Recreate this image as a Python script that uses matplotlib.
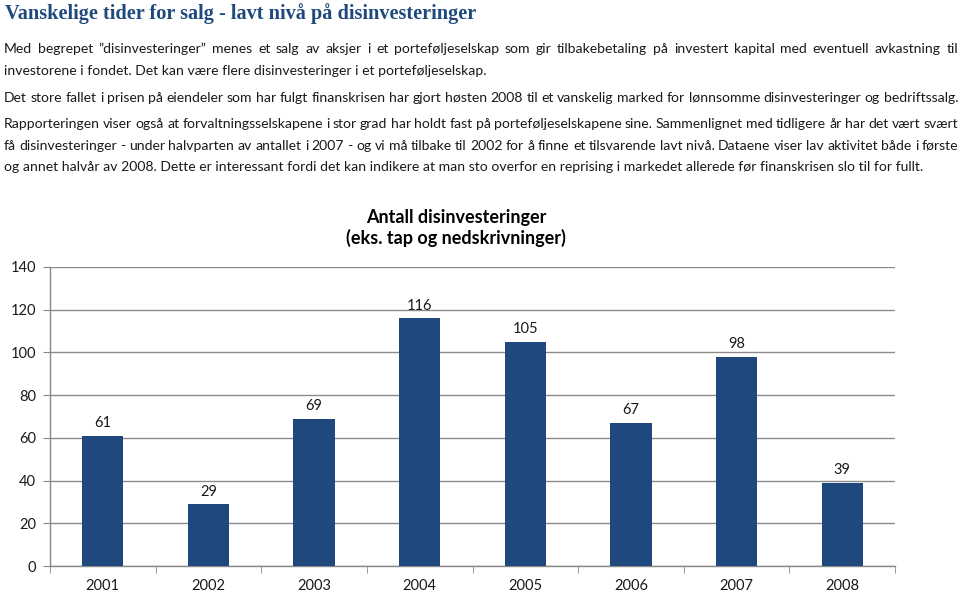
import matplotlib
matplotlib.use("Agg")
import matplotlib.pyplot as plt
import numpy as np

years = ["2001", "2002", "2003", "2004", "2005", "2006", "2007", "2008"]
counts = [61, 29, 69, 116, 105, 67, 98, 39]
yticks = [0, 20, 40, 60, 80, 100, 120, 140]

title = "Vanskelige tider for salg - lavt nivå på disinvesteringer"
chart_title = "Antall disinvesteringer\n(eks. tap og nedskrivninger)"
# (text, y-pixel-center, justified)
body_lines = [
    ("Med begrepet \u201ddisinvesteringer\u201d menes et salg av aksjer i et porteføljeselskap som gir tilbakebetaling på investert kapital med eventuell avkastning til", 49, True),
    ("investorene i fondet. Det kan være flere disinvesteringer i et porteføljeselskap.", 71, False),
    ("Det store fallet i prisen på eiendeler som har fulgt finanskrisen har gjort høsten 2008 til et vanskelig marked for lønnsomme disinvesteringer og bedriftssalg.", 98, True),
    ("Rapporteringen viser også at forvaltningsselskapene i stor grad har holdt fast på porteføljeselskapene sine. Sammenlignet med tidligere år har det vært svært", 124, True),
    ("få disinvesteringer - under halvparten av antallet i 2007 - og vi må tilbake til 2002 for å finne et tilsvarende lavt nivå. Dataene viser lav aktivitet både i første", 146, True),
    ("og annet halvår av 2008. Dette er interessant fordi det kan indikere at man sto overfor en reprising i markedet allerede før finanskrisen slo til for fullt.", 167, False),
]

W, H = 960, 593
fig = plt.figure(figsize=(W / 100, H / 100), dpi=100)
renderer = fig.canvas.get_renderer()

BODY_FONT = "Lato"
TEXT_COLOR = "#1a1a1a"
BLUE = "#1F497D"
TITLE_FONT = "Liberation Serif"

# fit body font size so that the full line spans 4..958 px
probe = fig.text(0, 0, body_lines[2][0], fontsize=10, family=BODY_FONT)
pw = probe.get_window_extent(renderer).width
probe.remove()
body_size = 10 * (955 / pw)

# title: fit width 5..478
probe = fig.text(0, 0, title, fontsize=10, family=TITLE_FONT, fontweight="bold")
tw = probe.get_window_extent(renderer).width
probe.remove()
title_size = 10 * (473 / tw)
fig.text(5 / W, 1 - 14 / H, title, fontsize=title_size, family=TITLE_FONT,
         fontweight="bold", color=BLUE, va="center", ha="left")

x0, x1 = 4, 958
for text, yc, just in body_lines:
    yf = 1 - yc / H
    if not just:
        fig.text(x0 / W, yf, text, fontsize=body_size, family=BODY_FONT,
                 color=TEXT_COLOR, va="center", ha="left")
        continue
    words = text.split(" ")
    ts = [fig.text(0, yf, w, fontsize=body_size, family=BODY_FONT,
                   color=TEXT_COLOR, va="center", ha="left") for w in words]
    widths = [t.get_window_extent(renderer).width for t in ts]
    gap = (x1 - x0 - sum(widths)) / (len(words) - 1)
    x = x0
    for t, w in zip(ts, widths):
        t.set_x(x / W)
        x += w + gap

# chart
ax = fig.add_axes([50 / W, 1 - 566 / H, (895 - 50) / W, (566 - 267) / H])
xpos = np.arange(len(years))
bars = ax.bar(xpos, counts, width=0.39, color=BLUE, zorder=3)
ax.set_xlim(-0.5, len(years) - 0.5)
ax.set_ylim(0, 140)
ax.set_yticks(yticks)
ax.set_yticklabels([str(v) for v in yticks], fontsize=10.5, family=BODY_FONT, color=TEXT_COLOR)
ax.set_xticks(xpos)
ax.set_xticklabels(years, fontsize=10.5, family=BODY_FONT, color=TEXT_COLOR)
ax.set_xticks(np.arange(-0.5, len(years)), minor=True)
ax.tick_params(axis="x", which="major", length=0, pad=9.5)
ax.tick_params(axis="x", which="minor", length=5, color="#888888", direction="out")
ax.tick_params(axis="y", length=5, color="#888888", direction="out", pad=5)
ax.yaxis.grid(True, color="#8c8c8c", linewidth=1.0, zorder=0)
for s in ["top", "right"]:
    ax.spines[s].set_visible(False)
for s in ["left", "bottom"]:
    ax.spines[s].set_color("#888888")
    ax.spines[s].set_linewidth(1.0)

for b, v in zip(bars, counts):
    ax.annotate(str(v), (b.get_x() + b.get_width() / 2, v), xytext=(0, 4),
                textcoords="offset points", ha="center", va="bottom",
                fontsize=10.5, family=BODY_FONT, color=TEXT_COLOR)

fig.text(456 / W, 1 - 228 / H, chart_title, fontsize=13, family=BODY_FONT,
         fontweight="bold", color="#000000", ha="center", va="center",
         linespacing=1.25)

fig.savefig("out.png", dpi=100)
